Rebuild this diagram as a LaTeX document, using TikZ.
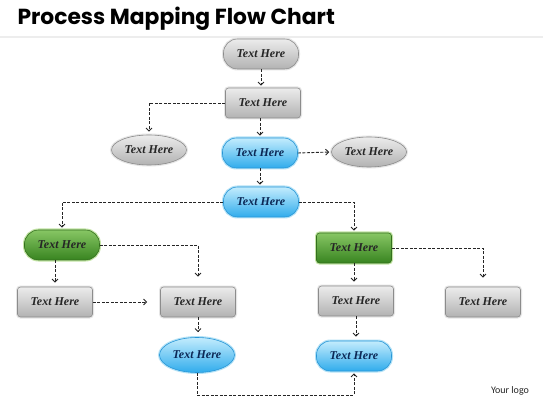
\documentclass[tikz,border=0pt]{standalone}
\usepackage{fontspec}
\setmainfont{Liberation Serif}
\newfontfamily\titlefont{Poppins}
\newfontfamily\logofont{Carlito}
\usetikzlibrary{arrows.meta,shapes.geometric,shadows}
\definecolor{graytop}{RGB}{236,236,236}
\definecolor{graybot}{RGB}{178,178,178}
\definecolor{grayline}{RGB}{140,140,140}
\definecolor{bluetop}{RGB}{195,236,253}
\definecolor{bluebot}{RGB}{48,172,236}
\definecolor{blueline}{RGB}{40,150,215}
\definecolor{bluehalo}{RGB}{180,226,246}
\definecolor{bluetext}{RGB}{12,40,85}
\definecolor{greentop}{RGB}{135,198,100}
\definecolor{greenbot}{RGB}{56,132,32}
\definecolor{greenline}{RGB}{52,112,30}
\definecolor{greenhalo}{RGB}{195,228,165}
\begin{document}
\begin{tikzpicture}[x=1pt,y=-1pt,
  font=\bfseries\itshape\fontsize{12}{14}\selectfont,
  nodesize/.style={minimum width=75pt,minimum height=30pt,inner sep=0pt},
  grayfill/.style={nodesize,top color=graytop,bottom color=graybot,draw=grayline,
    line width=0.6pt,text=black!85,preaction={draw=black!10,line width=3pt}},
  bluefill/.style={nodesize,top color=bluetop,bottom color=bluebot,draw=blueline,
    line width=0.6pt,text=bluetext,preaction={draw=bluehalo,line width=3pt}},
  greenfill/.style={nodesize,top color=greentop,bottom color=greenbot,draw=greenline,
    line width=0.6pt,text=black!85,preaction={draw=greenhalo,line width=3pt}},
  graybox/.style={grayfill,rounded corners=3pt},
  graypill/.style={grayfill,rounded corners=14pt},
  grayoval/.style={grayfill,ellipse},
  bluepill/.style={bluefill,rounded corners=14pt},
  blueoval/.style={bluefill,ellipse,minimum height=35pt},
  greenpill/.style={greenfill,rounded corners=14pt},
  greenbox/.style={greenfill,rounded corners=3pt},
  link/.style={draw=black!85,line width=0.9pt,dash pattern=on 3pt off 1.5pt,
    -{Straight Barb[length=3pt,width=6pt]},shorten >=2pt}]
  \useasboundingbox[fill=white] (0,0) rectangle (543,403);
  \draw[black!7,line width=1.5pt] (0,37) -- (543,37);
  \node[anchor=base west,text=black,
    font=\titlefont\bfseries\upshape\fontsize{21.8}{26}\selectfont] (title) at (14,25)
    {Process Mapping Flow Chart};
  \node[font=\logofont\upshape\mdseries\fontsize{10}{12}\selectfont,text=black!85]
    (logo) at (510,391) {Your logo};

  \node[graypill] (start) at (261,54) {Text Here};
  \node[graybox] (task) at (263,103) {Text Here};
  \node[grayoval] (sideL) at (149,150) {Text Here};
  \node[bluepill] (check) at (260,153) {Text Here};
  \node[grayoval] (sideR) at (369,152) {Text Here};
  \node[bluepill] (split) at (261,202) {Text Here};
  \node[greenpill] (branchL) at (62,245) {Text Here};
  \node[greenbox] (branchR) at (354,248) {Text Here};
  \node[graybox] (stepA) at (55,302) {Text Here};
  \node[graybox] (stepB) at (198,302) {Text Here};
  \node[graybox] (stepC) at (356,301) {Text Here};
  \node[graybox] (stepD) at (483,302) {Text Here};
  \node[blueoval] (endL) at (197,355) {Text Here};
  \node[bluepill] (endR) at (354,356) {Text Here};
  \coordinate (loop) at (0,395);

  \draw[link] (start.south) -- (start.south |- task.north);
  \draw[link,shorten >=3pt] (task.west) -| (sideL.north);
  \draw[link] (check.north |- task.south) -- (check.north);
  \draw[link] (check.east) -- (sideR.west);
  \draw[link] (check.south) -- (check.south |- split.north);
  \draw[link] (split.west) -| (branchL.north);
  \draw[link] (split.east) -| (branchR.north);
  \draw[link,shorten >=4pt] (stepA.north |- branchL.south) -- (stepA.north);
  \draw[link,shorten >=10pt] (branchL.east) -| (stepB.north);
  \draw[link,shorten >=13pt] (stepA.east) -- (stepB.west);
  \draw[link,shorten >=5pt] (stepB.south) -- (stepB.south |- endL.north);
  \draw[link,shorten >=9pt] (branchR.east) -| (stepD.north);
  \draw[link,shorten >=4pt] (branchR.south) -- (branchR.south |- stepC.north);
  \draw[link,shorten >=4pt] (stepC.south) -- (stepC.south |- endR.north);
  \draw[link] (endL.south) -- (endL.south |- loop) -| (endR.south);
\end{tikzpicture}
\end{document}
